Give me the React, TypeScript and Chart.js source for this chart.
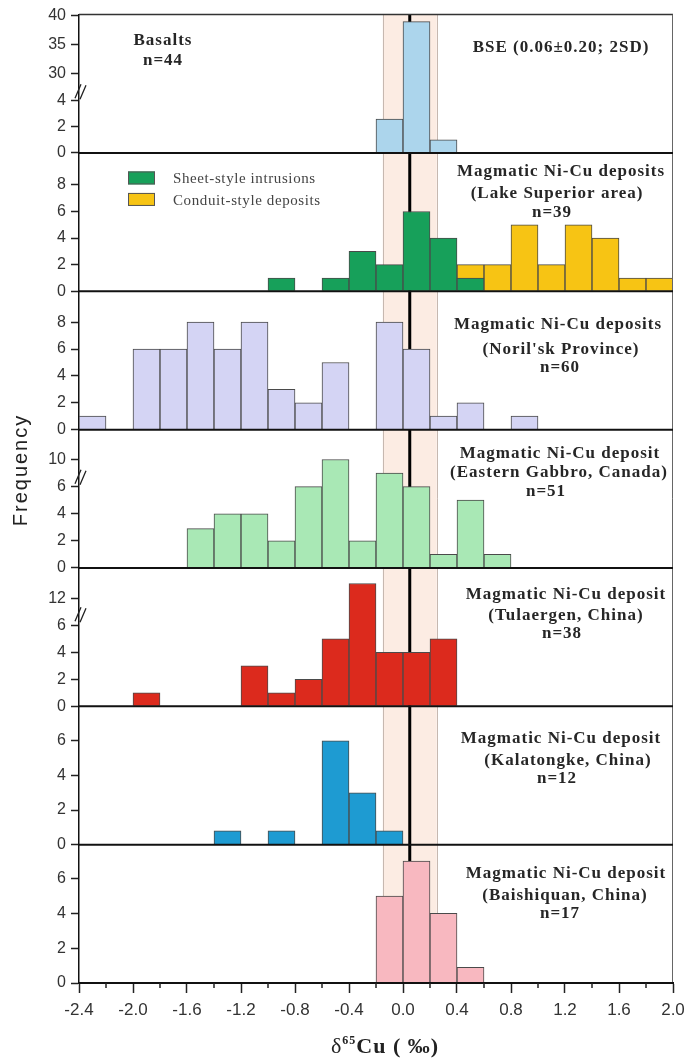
import React, { useEffect, useRef } from 'react';
import { Chart, registerables } from 'chart.js';

Chart.register(...registerables);

// ---------- data ----------
const BIN_EDGES = [-2.4, -2.2, -2.0, -1.8, -1.6, -1.4, -1.2, -1.0, -0.8, -0.6, -0.4, -0.2, 0.0, 0.2, 0.4, 0.6, 0.8, 1.0, 1.2, 1.4, 1.6, 1.8];
const BIN_WIDTH = 0.2;
const X_TICKS = [-2.4, -2.0, -1.6, -1.2, -0.8, -0.4, 0.0, 0.4, 0.8, 1.2, 1.6, 2.0];
const X_MINOR_TICKS = [-2.2, -1.8, -1.4, -1.0, -0.6, -0.2, 0.2, 0.6, 1.0, 1.4, 1.8];

const BASALTS = [0, 0, 0, 0, 0, 0, 0, 0, 0, 0, 0, 2.6, 39, 1, 0, 0, 0, 0, 0, 0, 0, 0];
const LAKE_SUPERIOR_SHEET = [0, 0, 0, 0, 0, 0, 0, 1, 0, 1, 3, 2, 6, 4, 1, 0, 0, 0, 0, 0, 0, 0];
const LAKE_SUPERIOR_CONDUIT = [0, 0, 0, 0, 0, 0, 0, 0, 0, 0, 0, 0, 0, 0, 1, 2, 5, 2, 5, 4, 1, 1];
const NORILSK = [1, 0, 6, 6, 8, 6, 8, 3, 2, 5, 0, 8, 6, 1, 2, 0, 1, 0, 0, 0, 0, 0];
const EASTERN_GABBRO = [0, 0, 0, 0, 2.9, 4, 4, 2, 6, 10, 2, 7, 6, 1, 5, 1, 0, 0, 0, 0, 0, 0];
const TULAERGEN = [0, 0, 1, 0, 0, 0, 3, 1, 2, 5, 13, 4, 4, 5, 0, 0, 0, 0, 0, 0, 0, 0];
const KALATONGKE = [0, 0, 0, 0, 0, 0.8, 0, 0.8, 0, 6, 3, 0.8, 0, 0, 0, 0, 0, 0, 0, 0, 0, 0];
const BAISHIQUAN = [0, 0, 0, 0, 0, 0, 0, 0, 0, 0, 0, 5, 7, 4, 0.9, 0, 0, 0, 0, 0, 0, 0];

const BSE_CENTER = 0.05;
const BSE_HALF = 0.2;

// y tick values (raw frequencies) for each panel
const TICKS_BASALTS = [0, 2, 4, 30, 35, 40];
const TICKS_LAKE = [0, 2, 4, 6, 8];
const TICKS_NORILSK = [0, 2, 4, 6, 8];
const TICKS_GABBRO = [0, 2, 4, 6, 10];
const TICKS_TULAERGEN = [0, 2, 4, 6, 12];
const TICKS_KALATONGKE = [0, 2, 4, 6];
const TICKS_BAISHIQUAN = [0, 2, 4, 6];

// broken-axis mappings: [raw value, display position]
const BREAK_BASALTS = [[0, 0], [4, 4], [30, 6.1], [40, 10.5]];
const BREAK_GABBRO = [[0, 0], [7, 7], [10, 8]];
const BREAK_TULAERGEN = [[0, 0], [6, 6], [12, 8], [13, 9.1]];

// ---------- panel setup ----------
type Series = { label: string; counts: number[]; color: string };
type Panel = {
  series: Series[];
  ticks: number[];
  max: number;
  knots?: number[][];
  breakAt?: number;
  stacked?: boolean;
  lines: { t: string; x: number; dy: number }[];
};

const PANELS: Panel[] = [
  {
    series: [{ label: 'Basalts', counts: BASALTS, color: '#acd5ec' }],
    ticks: TICKS_BASALTS, max: 10.6, knots: BREAK_BASALTS, breakAt: 4.8,
    lines: [{ t: 'Basalts', x: 163, dy: 26 }, { t: 'n=44', x: 163, dy: 46 }, { t: 'BSE (0.06\u00B10.20; 2SD)', x: 561, dy: 33 }],
  },
  {
    series: [
      { label: 'Sheet-style intrusions', counts: LAKE_SUPERIOR_SHEET, color: '#17a05a' },
      { label: 'Conduit-style deposits', counts: LAKE_SUPERIOR_CONDUIT, color: '#f7c414' },
    ],
    ticks: TICKS_LAKE, max: 10.4, stacked: true,
    lines: [{ t: 'Magmatic Ni-Cu deposits', x: 561, dy: 19 }, { t: '(Lake Superior area)', x: 557, dy: 41 }, { t: 'n=39', x: 552, dy: 60 }],
  },
  {
    series: [{ label: "Noril'sk", counts: NORILSK, color: '#d4d4f4' }],
    ticks: TICKS_NORILSK, max: 10.3,
    lines: [{ t: 'Magmatic Ni-Cu deposits', x: 558, dy: 33 }, { t: "(Noril'sk Province)", x: 561, dy: 58 }, { t: 'n=60', x: 560, dy: 76 }],
  },
  {
    series: [{ label: 'Eastern Gabbro', counts: EASTERN_GABBRO, color: '#a9e8b5' }],
    ticks: TICKS_GABBRO, max: 10.2, knots: BREAK_GABBRO, breakAt: 6.8,
    lines: [{ t: 'Magmatic Ni-Cu deposit', x: 560, dy: 24 }, { t: '(Eastern Gabbro, Canada)', x: 559, dy: 43 }, { t: 'n=51', x: 546, dy: 62 }],
  },
  {
    series: [{ label: 'Tulaergen', counts: TULAERGEN, color: '#dc2a1d' }],
    ticks: TICKS_TULAERGEN, max: 10.25, knots: BREAK_TULAERGEN, breakAt: 6.9,
    lines: [{ t: 'Magmatic Ni-Cu deposit', x: 566, dy: 27 }, { t: '(Tulaergen, China)', x: 566, dy: 48 }, { t: 'n=38', x: 562, dy: 66 }],
  },
  {
    series: [{ label: 'Kalatongke', counts: KALATONGKE, color: '#1e9bd2' }],
    ticks: TICKS_KALATONGKE, max: 8.0,
    lines: [{ t: 'Magmatic Ni-Cu deposit', x: 561, dy: 32 }, { t: '(Kalatongke, China)', x: 568, dy: 54 }, { t: 'n=12', x: 557, dy: 72 }],
  },
  {
    series: [{ label: 'Baishiquan', counts: BAISHIQUAN, color: '#f8b8c0' }],
    ticks: TICKS_BAISHIQUAN, max: 7.95,
    lines: [{ t: 'Magmatic Ni-Cu deposit', x: 566, dy: 29 }, { t: '(Baishiquan, China)', x: 565, dy: 51 }, { t: 'n=17', x: 560, dy: 69 }],
  },
];

function mapVal(knots: number[][] | undefined, v: number): number {
  if (!knots) return v;
  for (let i = 1; i < knots.length; i++) {
    const [a0, b0] = knots[i - 1];
    const [a1, b1] = knots[i];
    if (v <= a1 || i === knots.length - 1) return b0 + ((v - a0) * (b1 - b0)) / (a1 - a0);
  }
  return v;
}

const SERIF = '"Liberation Serif", "Times New Roman", serif';
const SANS = '"Liberation Sans", Arial, sans-serif';

function drawText(ctx: CanvasRenderingContext2D, s: string, x: number, y: number, font: string, color: string, align: CanvasTextAlign = 'center', spacing = 0) {
  ctx.save();
  ctx.font = font;
  ctx.fillStyle = color;
  ctx.textAlign = align;
  ctx.textBaseline = 'middle';
  (ctx as any).letterSpacing = spacing + 'px';
  ctx.fillText(s, x, y);
  ctx.restore();
}

const decorPlugin = {
  id: 'decor',
  beforeDatasetsDraw(chart: any) {
    const { ctx, chartArea } = chart;
    const xs = chart.scales.x;
    const x0 = xs.getPixelForValue(BSE_CENTER - BSE_HALF);
    const x1 = xs.getPixelForValue(BSE_CENTER + BSE_HALF);
    ctx.save();
    ctx.fillStyle = '#fcece3';
    ctx.fillRect(x0, chartArea.top, x1 - x0, chartArea.bottom - chartArea.top);
    ctx.strokeStyle = '#c6b8b0';
    ctx.lineWidth = 1;
    ctx.beginPath();
    ctx.moveTo(Math.round(x0) + 0.5, chartArea.top);
    ctx.lineTo(Math.round(x0) + 0.5, chartArea.bottom);
    ctx.moveTo(Math.round(x1) + 0.5, chartArea.top);
    ctx.lineTo(Math.round(x1) + 0.5, chartArea.bottom);
    ctx.stroke();
    const xm = xs.getPixelForValue(BSE_CENTER);
    ctx.strokeStyle = '#000';
    ctx.lineWidth = 3;
    ctx.beginPath();
    ctx.moveTo(xm, chartArea.top);
    ctx.lineTo(xm, chartArea.bottom + 1);
    ctx.stroke();
    ctx.restore();
  },
  afterDatasetsDraw(chart: any) {
    const { ctx, chartArea } = chart;
    const xs = chart.scales.x;
    ctx.save();
    // top and right borders
    ctx.strokeStyle = '#333';
    ctx.lineWidth = 1.5;
    ctx.beginPath();
    ctx.moveTo(chartArea.left, chartArea.top);
    ctx.lineTo(chartArea.right, chartArea.top);
    ctx.stroke();
    ctx.strokeStyle = '#666';
    ctx.lineWidth = 1;
    ctx.beginPath();
    ctx.moveTo(chartArea.right - 0.5, chartArea.top);
    ctx.lineTo(chartArea.right - 0.5, chartArea.bottom);
    ctx.stroke();
    // zero lines of every panel
    PANELS.forEach((p, k) => {
      const ys = chart.scales['p' + k];
      const y = ys.getPixelForValue(0);
      ctx.strokeStyle = '#111';
      ctx.lineWidth = 2;
      ctx.beginPath();
      ctx.moveTo(chartArea.left, y);
      ctx.lineTo(chartArea.right, y);
      ctx.stroke();
      // axis break marks
      if (p.breakAt !== undefined) {
        const yc = ys.getPixelForValue(p.breakAt);
        const xa = chartArea.left;
        ctx.strokeStyle = '#222';
        ctx.lineWidth = 1.3;
        ctx.beginPath();
        ctx.moveTo(xa - 4, yc + 8);
        ctx.lineTo(xa + 2, yc - 6);
        ctx.moveTo(xa + 1, yc + 9);
        ctx.lineTo(xa + 7, yc - 5);
        ctx.stroke();
      }
      // panel annotation
      const top = ys.top;
      p.lines.forEach((ln) => {
        drawText(ctx, ln.t, ln.x, top + ln.dy, 'bold 17px ' + SERIF, '#262626', 'center', 1);
      });
    });
    // minor x ticks
    ctx.strokeStyle = '#222';
    ctx.lineWidth = 1.5;
    ctx.beginPath();
    X_MINOR_TICKS.forEach((v) => {
      const x = xs.getPixelForValue(v);
      ctx.moveTo(x, chartArea.bottom);
      ctx.lineTo(x, chartArea.bottom + 5);
    });
    ctx.stroke();
    // legend of Lake Superior panel
    const legend = PANELS[1].series;
    const lTop = chart.scales.p1.top;
    legend.forEach((s, i) => {
      const y = lTop + 18.5 + i * 21.5;
      ctx.fillStyle = s.color;
      ctx.fillRect(128, y, 27, 13);
      ctx.strokeStyle = '#555';
      ctx.lineWidth = 1;
      ctx.strokeRect(128.5, y + 0.5, 26, 12);
      drawText(ctx, s.label, 173, y + 8, '15px ' + SERIF, '#444', 'left', 0.6);
    });
    // y axis title
    ctx.save();
    ctx.translate(21, 470);
    ctx.rotate(-Math.PI / 2);
    drawText(ctx, 'Frequency', 0, 0, '20px ' + SANS, '#222', 'center', 2);
    ctx.restore();
    // x axis title: δ65Cu (‰)
    const parts = [
      { t: '\u03B4', f: '22px ' + SERIF, dy: 0 },
      { t: '65', f: 'bold 12px ' + SERIF, dy: -9 },
      { t: 'Cu ( \u2030)', f: 'bold 22px ' + SERIF, dy: 0 },
    ];
    let total = 0;
    const widths = parts.map((pt) => {
      ctx.font = pt.f;
      (ctx as any).letterSpacing = '1px';
      const w = ctx.measureText(pt.t).width;
      total += w;
      return w;
    });
    let cx = 385 - total / 2;
    const base = 1053;
    parts.forEach((pt, i) => {
      ctx.save();
      ctx.font = pt.f;
      ctx.fillStyle = '#222';
      ctx.textAlign = 'left';
      ctx.textBaseline = 'alphabetic';
      (ctx as any).letterSpacing = '1px';
      ctx.fillText(pt.t, cx, base + pt.dy);
      ctx.restore();
      cx += widths[i];
    });
    ctx.restore();
  },
};

function buildDatasets() {
  const ds: any[] = [];
  PANELS.forEach((p, k) => {
    p.series.forEach((s) => {
      const pts = BIN_EDGES.map((e, i) => ({ x: e + BIN_WIDTH / 2, c: s.counts[i] }))
        .filter((d) => d.c > 0)
        .map((d) => ({ x: d.x, y: mapVal(p.knots, d.c) }));
      ds.push({
        type: 'bar',
        label: s.label,
        data: pts,
        yAxisID: 'p' + k,
        backgroundColor: s.color,
        borderColor: '#4a4a4a',
        borderWidth: 1,
        borderSkipped: 'start',
        grouped: false,
        barPercentage: 1,
        categoryPercentage: 1,
      });
    });
  });
  return ds;
}

function buildScales() {
  const scales: any = {
    x: {
      type: 'linear',
      position: 'bottom',
      min: -2.4,
      max: 2.0,
      offset: false,
      afterBuildTicks: (s: any) => {
        s.ticks = X_TICKS.map((v) => ({ value: v }));
      },
      afterFit: (s: any) => {
        s.height = 78;
      },
      ticks: {
        autoSkip: false,
        maxRotation: 0,
        padding: 7,
        color: '#333',
        font: { family: SANS, size: 17 },
        callback: (_v: any, i: number) => X_TICKS[i].toFixed(1),
      },
      grid: { display: true, offset: false, drawOnChartArea: false, drawTicks: true, tickLength: 10, tickWidth: 1.5, tickColor: '#222' },
      border: { display: true, color: '#111', width: 2 },
    },
  };
  PANELS.forEach((p, k) => {
    scales['p' + k] = {
      type: 'linear',
      position: 'left',
      stack: 'panels',
      stackWeight: 1,
      weight: PANELS.length - k,
      stacked: !!p.stacked,
      min: 0,
      max: p.max,
      afterBuildTicks: (s: any) => {
        s.ticks = p.ticks.map((v) => ({ value: mapVal(p.knots, v) }));
      },
      afterFit: (s: any) => {
        s.width = 50;
      },
      ticks: {
        autoSkip: false,
        padding: 5,
        color: '#333',
        font: { family: SANS, size: 16 },
        callback: (_v: any, i: number) => String(p.ticks[i]),
      },
      grid: { display: true, drawOnChartArea: false, drawTicks: true, tickLength: 8, tickWidth: 1.5, tickColor: '#222' },
      border: { display: true, color: '#111', width: 1.5 },
    };
  });
  return scales;
}

export default function App() {
  const ref = useRef<HTMLCanvasElement>(null);
  useEffect(() => {
    if (!ref.current) return;
    const chart = new Chart(ref.current, {
      type: 'bar',
      data: { datasets: buildDatasets() },
      options: {
        responsive: false,
        animation: false,
        devicePixelRatio: 1,
        layout: { padding: { left: 29, right: 21, top: 12, bottom: 0 } },
        plugins: { legend: { display: false }, tooltip: { enabled: false } },
        scales: buildScales(),
      } as any,
      plugins: [decorPlugin],
    });
    return () => chart.destroy();
  }, []);
  return (
    <div style={{ position: 'absolute', left: 0, top: 0, width: 694, height: 1061, background: '#fff' }}>
      <canvas ref={ref} width={694} height={1061} style={{ display: 'block', width: 694, height: 1061 }} />
    </div>
  );
}
